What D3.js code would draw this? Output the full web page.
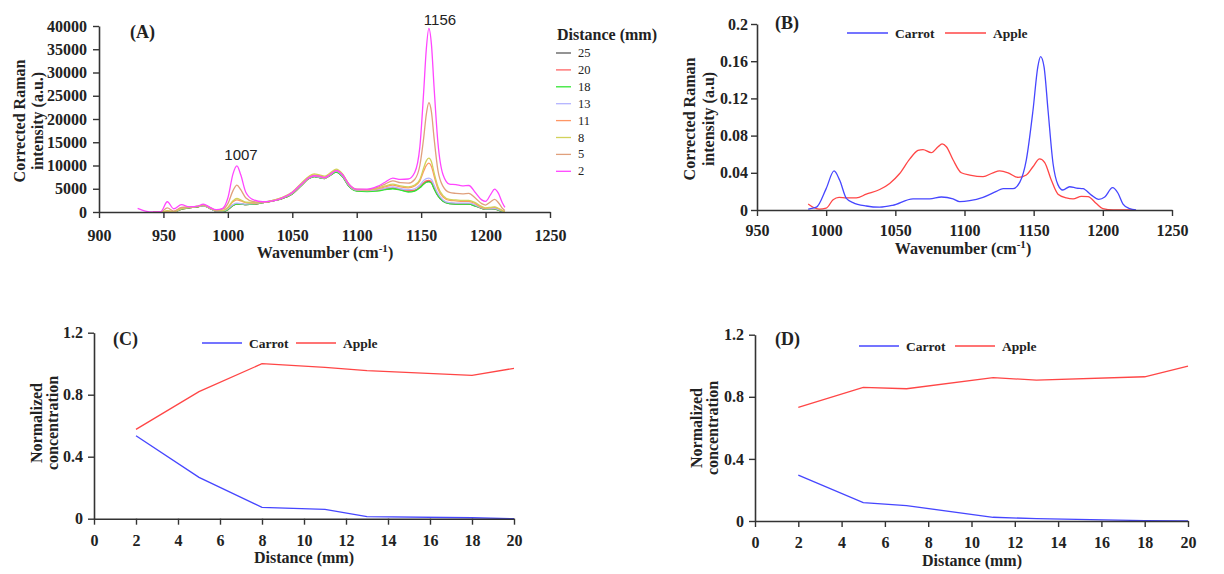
<!DOCTYPE html>
<html>
<head>
<meta charset="utf-8">
<script src="https://cdn.jsdelivr.net/npm/d3@7"></script>
<style>
  body { margin: 0; background: #fff; }
  svg { display: block; }
</style>
</head>
<body>
<svg id="chart" width="1224" height="574"></svg>
<script>
// ---------- panel A: spectra at several distances ----------
const wnA = [930, 936, 942, 948, 953, 958, 964, 970, 976, 981,
  986, 991, 996, 1000, 1004, 1007, 1010, 1014, 1020, 1027,
  1035, 1042, 1050, 1057, 1063, 1067, 1071, 1075, 1079, 1084,
  1089, 1094, 1100, 1108, 1116, 1122, 1128, 1134, 1140, 1145,
  1149, 1152, 1154, 1156, 1158, 1160, 1163, 1167, 1172, 1177,
  1182, 1187, 1192, 1197, 1200, 1204, 1207, 1210, 1213, 1215]

const dist2 = [800, 200, 0, 100, 2200, 700, 1600, 1100, 1200, 1700,
  1000, 500, 800, 3000, 8200, 9900, 8000, 4200, 2600, 2200,
  2400, 3000, 4200, 6000, 7400, 7800, 7700, 7400, 8000, 8900,
  8000, 6000, 4900, 4900, 5500, 6400, 7300, 7000, 7100, 8500,
  14000, 26000, 35000, 39500, 36000, 27000, 15000, 8000, 6000, 5900,
  5600, 5700, 4200, 2600, 2300, 3800, 4900, 4000, 2000, 1000]
const dist5 = [null, null, 0, 0, 900, 200, 1000, 1100, 1200, 1500,
  1000, 400, 600, 1800, 4600, 5800, 4800, 3000, 2200, 2100,
  2400, 3000, 4100, 5900, 7300, 7800, 7600, 7300, 7900, 8900,
  8000, 5900, 4800, 4800, 5300, 6000, 6700, 6300, 6200, 7000,
  10000, 16000, 21000, 23500, 21500, 16000, 9000, 5500, 4200, 4000,
  3900, 4000, 3000, 1800, 1500, 2200, 2700, 2000, 800, 300]
const dist8 = [null, null, 0, 0, 300, 100, 800, 1000, 1200, 1500,
  900, 300, 300, 1000, 2400, 2900, 2600, 2100, 2000, 2100,
  2500, 3100, 4300, 6200, 7700, 8200, 8000, 7700, 8300, 9200,
  8200, 6000, 4900, 4800, 5100, 5600, 6000, 5600, 5400, 5800,
  7000, 9500, 11000, 11600, 10800, 8500, 5500, 3500, 2700, 2600,
  2500, 2500, 2000, 1200, 900, 1000, 1100, 800, 300, 100]
const dist11 = [null, null, 0, 0, 200, 100, 800, 1000, 1200, 1500,
  900, 300, 300, 900, 2200, 2600, 2400, 2000, 1900, 2100,
  2500, 3100, 4200, 6000, 7500, 8000, 7800, 7500, 8100, 9000,
  8000, 5900, 4800, 4700, 5000, 5400, 5800, 5400, 5200, 5600,
  6700, 8800, 10000, 10500, 9800, 7800, 5000, 3200, 2500, 2400,
  2300, 2300, 1800, 1000, 800, 900, 1000, 700, 300, 100]
const dist13 = [null, null, 0, 0, 100, 0, 700, 1000, 1200, 1400,
  800, 200, 200, 700, 1600, 1900, 1800, 1700, 1800, 2100,
  2500, 3000, 4000, 5800, 7300, 7700, 7500, 7300, 7900, 8800,
  7800, 5700, 4700, 4600, 4800, 5100, 5400, 5000, 4800, 5000,
  5800, 6800, 7200, 7300, 7000, 5800, 4000, 2600, 2000, 1900,
  1900, 1900, 1500, 900, 700, 700, 800, 500, 200, 0]
const dist18 = [null, null, 0, 0, 0, 0, 600, 900, 1100, 1400,
  800, 200, 100, 500, 1400, 1700, 1700, 1600, 1700, 2000,
  2400, 2900, 3900, 5700, 7200, 7600, 7400, 7200, 7800, 8600,
  7600, 5500, 4500, 4400, 4500, 4800, 5000, 4700, 4300, 4500,
  5200, 6000, 6400, 6500, 6200, 5000, 3500, 2300, 1800, 1700,
  1700, 1700, 1300, 800, 600, 600, 700, 400, 100, 0]
const dist20 = [null, null, 0, 0, 0, 0, 600, 900, 1100, 1400,
  800, 200, 100, 500, 1400, 1700, 1700, 1600, 1700, 2000,
  2400, 2900, 3900, 5700, 7300, 7700, 7500, 7300, 7900, 8700,
  7700, 5600, 4600, 4500, 4700, 5000, 5200, 4900, 4600, 4700,
  5400, 6300, 6700, 6800, 6400, 5200, 3600, 2400, 1900, 1800,
  1800, 1800, 1400, 800, 600, 600, 700, 400, 100, 0]
const dist25 = [null, null, 0, 0, 0, 0, 600, 900, 1100, 1400,
  800, 200, 100, 500, 1400, 1700, 1700, 1600, 1700, 2000,
  2400, 2900, 3900, 5700, 7200, 7600, 7400, 7200, 7800, 8600,
  7600, 5500, 4600, 4500, 4700, 4900, 5100, 4800, 4500, 4600,
  5300, 6100, 6500, 6600, 6300, 5100, 3500, 2300, 1800, 1700,
  1700, 1700, 1300, 800, 600, 600, 700, 400, 100, 0]

const distLabels = ["25", "20", "18", "13", "11", "8", "5", "2"]
const distColors = ["#5a5a5a", "#ff6464", "#33e633", "#b4b4ff", "#ff9664", "#d2d25a", "#e0a07c", "#ff46ff"]
const distSeries = [dist25, dist20, dist18, dist13, dist11, dist8, dist5, dist2]

const ticksAx = [900, 950, 1000, 1050, 1100, 1150, 1200, 1250]
const ticksAy = [0, 5000, 10000, 15000, 20000, 25000, 30000, 35000, 40000]

// ---------- panel B: pure component spectra ----------
const wnCarrot = [987, 993, 1000, 1005.7, 1009.8, 1014.6, 1019.4, 1029, 1038.7, 1048,
  1062.8, 1074.8, 1083.3, 1091.7, 1096.5, 1103.8, 1113.4, 1123, 1127.9, 1135,
  1140, 1144.7, 1149.5, 1153, 1155, 1157.5, 1160.4, 1164, 1167.6, 1171,
  1176, 1181, 1185.7, 1191.7, 1197, 1201.4, 1207, 1211, 1214.6, 1219.4, 1224]
const carrotB = [0.001, 0.003, 0.023, 0.042, 0.032, 0.0125, 0.008, 0.0043, 0.003, 0.005,
  0.012, 0.012, 0.014, 0.012, 0.009, 0.010, 0.0136, 0.020, 0.023, 0.023,
  0.030, 0.054, 0.107, 0.154, 0.165, 0.154, 0.107, 0.050, 0.027, 0.0215,
  0.025, 0.0236, 0.023, 0.016, 0.0115, 0.014, 0.024, 0.018, 0.0064, 0.0014, 0]
const wnApple = [987, 990.5, 995, 1000, 1005, 1009.3, 1014.6, 1021.8, 1029, 1038.7,
  1045.9, 1053, 1060.5, 1066.4, 1070, 1076, 1080.9, 1083.8, 1086.9, 1091.7,
  1097.7, 1103.8, 1113.4, 1120.6, 1125.4, 1131.5, 1138.7, 1144.7, 1149.5, 1154.3,
  1158, 1162.8, 1167.6, 1173.6, 1178.5, 1184.5, 1189.3, 1195.3, 1200, 1207.4, 1217, 1222]
const appleB = [0.0064, 0.003, 0.001, 0.002, 0.011, 0.0136, 0.013, 0.013, 0.017, 0.022,
  0.0286, 0.039, 0.055, 0.064, 0.065, 0.0616, 0.068, 0.071, 0.068, 0.054,
  0.040, 0.0376, 0.0358, 0.040, 0.042, 0.040, 0.035, 0.0376, 0.0465, 0.055,
  0.051, 0.032, 0.017, 0.013, 0.012, 0.0147, 0.0143, 0.007, 0.0014, 0, 0, 0]
const ticksBx = [950, 1000, 1050, 1100, 1150, 1200, 1250]
const ticksBy = [0, 0.04, 0.08, 0.12, 0.16, 0.2]

// ---------- panels C and D: normalized concentration ----------
const distC = [2, 5, 8, 11, 13, 18, 20]
const carrotC = [0.535, 0.267, 0.073, 0.06, 0.013, 0.006, 0]
const appleC = [0.576, 0.82, 1.0, 0.976, 0.955, 0.925, 0.97]
const distD = [2, 5, 7, 11, 13, 18, 20]
const carrotD = [0.296, 0.118, 0.099, 0.024, 0.015, 0.002, 0]
const appleD = [0.732, 0.861, 0.852, 0.923, 0.908, 0.929, 0.998]
const ticksCDx = [0, 2, 4, 6, 8, 10, 12, 14, 16, 18, 20]
const ticksCDy = [0, 0.4, 0.8, 1.2]

const blue = "#4646ff"
const red = "#ff4646"
const axisColor = "#333"
const SERIF = '"Liberation Serif", "Times New Roman", serif'
const SANS = '"Liberation Sans", Arial, sans-serif'

const svg = d3.select("#chart")

// draws the two axes of one panel
function drawAxes(x, y, xTicks, yTicks, yFmt, xPad, yPad) {
  const gx = svg.append("g")
    .attr("transform", "translate(0," + y.range()[0] + ")")
    .call(d3.axisBottom(x).tickValues(xTicks).tickSize(6).tickSizeOuter(0).tickPadding(xPad).tickFormat(d3.format("d")))
  const gy = svg.append("g")
    .attr("transform", "translate(" + x.range()[0] + ",0)")
    .call(d3.axisLeft(y).tickValues(yTicks).tickSize(6).tickSizeOuter(0).tickPadding(yPad).tickFormat(yFmt))
  for (const g of [gx, gy]) {
    g.attr("font-family", SERIF).attr("font-size", 16)
    g.select(".domain").attr("stroke", axisColor).attr("stroke-width", 1.6)
    g.selectAll(".tick line").attr("stroke", axisColor).attr("stroke-width", 1.4)
    g.selectAll("text")
      .style("font-family", SERIF)
      .style("font-size", "16px")
      .style("font-weight", "bold")
      .attr("fill", "#222")
  }
}

function label(x, y, txt, size, bold, family, anchor) {
  return svg.append("text")
    .attr("x", x).attr("y", y)
    .attr("text-anchor", anchor || "start")
    .style("font-family", family || SERIF)
    .style("font-size", size + "px")
    .style("font-weight", bold ? "bold" : "normal")
    .attr("fill", "#222")
    .text(txt)
}

// two-line rotated y title
function yTitle(cx, cy, line1, line2, gap) {
  const t = svg.append("text")
    .attr("transform", "translate(" + cx + "," + cy + ") rotate(-90)")
    .attr("text-anchor", "middle")
    .style("font-family", SERIF)
    .style("font-size", "16px")
    .style("font-weight", "bold")
    .attr("fill", "#222")
  t.append("tspan").attr("x", 0).attr("y", 0).text(line1)
  t.append("tspan").attr("x", 0).attr("y", gap).text(line2)
}

// x title with cm-1 superscript
function wnTitle(cx, cy) {
  const t = label(cx, cy, "", 16, true, SERIF, "middle")
  t.append("tspan").text("Wavenumber (cm")
  t.append("tspan").attr("dy", -6).style("font-size", "11px").text("-1")
  t.append("tspan").attr("dy", 6).text(")")
}

function legendPair(x0, yLine, names, colors, lineLen, step) {
  names.forEach((n, i) => {
    const lx = x0 + i * step
    svg.append("line")
      .attr("x1", lx).attr("x2", lx + lineLen)
      .attr("y1", yLine).attr("y2", yLine)
      .attr("stroke", colors[i]).attr("stroke-width", 1.3)
    label(lx + lineLen + 7, yLine + 5, n, 13.5, true)
  })
}

const fmtDec = d => d === 0 ? "0" : d3.format("~g")(d)

// ---------------- panel A ----------------
{
  const x = d3.scaleLinear().domain([900, 1250]).range([99, 550])
  const y = d3.scaleLinear().domain([0, 40000]).range([212, 26])
  const line = d3.line()
    .defined(d => d[1] !== null)
    .x(d => x(d[0])).y(d => y(d[1]))
    .curve(d3.curveMonotoneX)

  distSeries.forEach((s, i) => {
    svg.append("path")
      .datum(wnA.map((w, j) => [w, s[j]]))
      .attr("fill", "none")
      .attr("stroke", distColors[i])
      .attr("stroke-width", 1.3)
      .attr("d", line)
  })

  drawAxes(x, y, ticksAx, ticksAy, d3.format("d"), 12, 6)

  label(130, 38, "(A)", 18, true)
  label(241, 160, "1007", 15, false, SANS, "middle")
  label(440, 25, "1156", 15, false, SANS, "middle")
  yTitle(25, 121, "Corrected Raman", "intensity (a.u.)", 18)
  wnTitle(325, 258)

  label(557, 40, "Distance (mm)", 16, true)
  distLabels.forEach((d, i) => {
    const yy = 53 + i * 16.9
    svg.append("line")
      .attr("x1", 556).attr("x2", 571)
      .attr("y1", yy).attr("y2", yy)
      .attr("stroke", distColors[i]).attr("stroke-width", 1.3)
    label(578, yy + 4, d, 12.5, false)
  })
}

// ---------------- panel B ----------------
{
  const x = d3.scaleLinear().domain([950, 1250]).range([757, 1172])
  const y = d3.scaleLinear().domain([0, 0.2]).range([210, 24])
  const line = d3.line().x(d => x(d[0])).y(d => y(d[1])).curve(d3.curveMonotoneX)

  svg.append("path")
    .datum(wnApple.map((w, j) => [w, appleB[j]]))
    .attr("fill", "none").attr("stroke", red).attr("stroke-width", 1.3)
    .attr("d", line)
  svg.append("path")
    .datum(wnCarrot.map((w, j) => [w, carrotB[j]]))
    .attr("fill", "none").attr("stroke", blue).attr("stroke-width", 1.3)
    .attr("d", line)

  drawAxes(x, y, ticksBx, ticksBy, fmtDec, 9, 3)

  label(775, 29, "(B)", 18, true)
  legendPair(847, 33, ["Carrot", "Apple"], [blue, red], 41, 98)
  yTitle(695, 119, "Corrected Raman", "intensity (a.u)", 19)
  wnTitle(963, 254)
}

// ---------------- panel C ----------------
{
  const x = d3.scaleLinear().domain([0, 20]).range([94, 514])
  const y = d3.scaleLinear().domain([0, 1.2]).range([518.7, 332.7])
  const line = d3.line().x(d => x(d[0])).y(d => y(d[1]))

  svg.append("path")
    .datum(distC.map((d, j) => [d, appleC[j]]))
    .attr("fill", "none").attr("stroke", red).attr("stroke-width", 1.3)
    .attr("d", line)
  svg.append("path")
    .datum(distC.map((d, j) => [d, carrotC[j]]))
    .attr("fill", "none").attr("stroke", blue).attr("stroke-width", 1.3)
    .attr("d", line)

  drawAxes(x, y, ticksCDx, ticksCDy, fmtDec, 10, 5)

  label(113, 345, "(C)", 18, true)
  legendPair(202, 343, ["Carrot", "Apple"], [blue, red], 40, 94)
  yTitle(42, 423, "Normalized", "concentration", 16)
  label(304, 563, "Distance (mm)", 16, true, SERIF, "middle")
}

// ---------------- panel D ----------------
{
  const x = d3.scaleLinear().domain([0, 20]).range([755, 1188])
  const y = d3.scaleLinear().domain([0, 1.2]).range([521, 334.7])
  const line = d3.line().x(d => x(d[0])).y(d => y(d[1]))

  svg.append("path")
    .datum(distD.map((d, j) => [d, appleD[j]]))
    .attr("fill", "none").attr("stroke", red).attr("stroke-width", 1.3)
    .attr("d", line)
  svg.append("path")
    .datum(distD.map((d, j) => [d, carrotD[j]]))
    .attr("fill", "none").attr("stroke", blue).attr("stroke-width", 1.3)
    .attr("d", line)

  drawAxes(x, y, ticksCDx, ticksCDy, fmtDec, 10, 5)

  label(775, 345, "(D)", 18, true)
  legendPair(859, 346, ["Carrot", "Apple"], [blue, red], 40, 96)
  yTitle(702, 428, "Normalized", "concentration", 16)
  label(972, 566, "Distance (mm)", 16, true, SERIF, "middle")
}
</script>
</body>
</html>
